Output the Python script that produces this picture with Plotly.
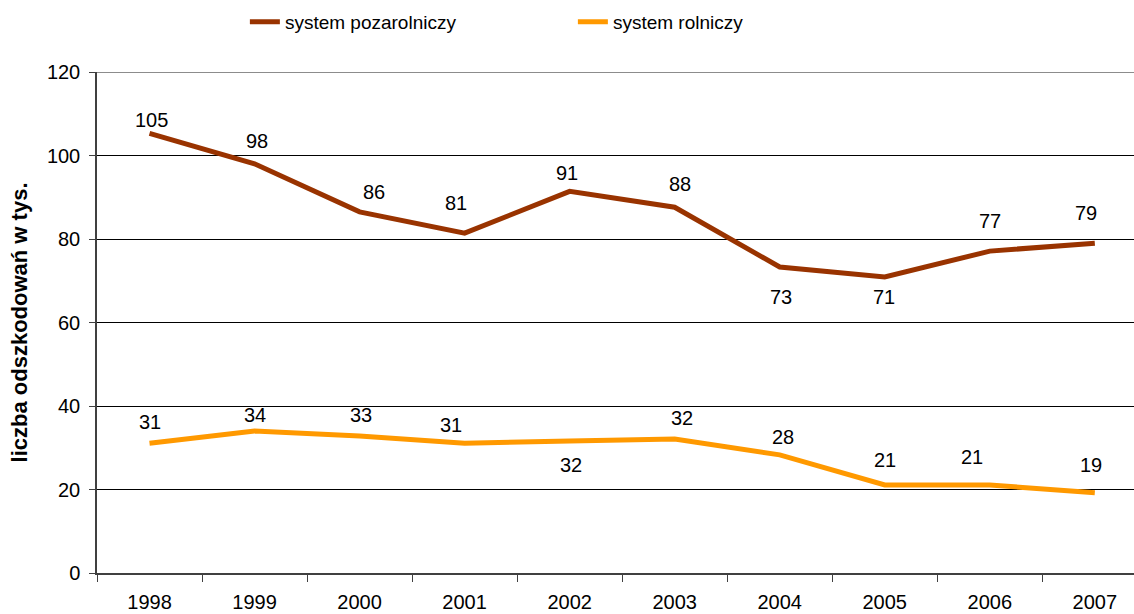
import plotly.graph_objects as go

years = ["1998", "1999", "2000", "2001", "2002", "2003", "2004", "2005", "2006", "2007"]
pozarolniczy = [105.3, 98.0, 86.5, 81.4, 91.4, 87.6, 73.3, 70.9, 77.1, 79.0]
rolniczy = [31.1, 34.0, 32.8, 31.1, 31.6, 32.1, 28.3, 21.1, 21.1, 19.2]

y_ticks = [0, 20, 40, 60, 80, 100, 120]

# label offsets in px (dx, dy; dy positive = downwards) relative to each point
poz_offsets = [(2, -13), (2, -23), (14, -20), (-9, -30), (-3, -18), (5, -23),
               (1, 30), (-1, 20), (0, -30), (-9, -30)]
rol_offsets = [(0, -21), (0, -16), (1, -21), (-14, -18), (1, 24), (7, -21),
               (3, -18), (0, -25), (-18, -28), (-4, -28)]

BROWN = "#993300"
ORANGE = "#FF9900"
FONT = "Liberation Sans, Arial, sans-serif"

fig = go.Figure()
fig.add_trace(go.Scatter(x=years, y=pozarolniczy, mode="lines", name="system pozarolniczy",
                         line=dict(color=BROWN, width=5)))
fig.add_trace(go.Scatter(x=years, y=rolniczy, mode="lines", name="system rolniczy",
                         line=dict(color=ORANGE, width=5)))

annotations = []
for series, offsets in ((pozarolniczy, poz_offsets), (rolniczy, rol_offsets)):
    for i, (v, (dx, dy)) in enumerate(zip(series, offsets)):
        annotations.append(dict(x=i, y=v, xref="x", yref="y", text=f"{v:.0f}",
                                showarrow=False, xshift=dx, yshift=-dy,
                                font=dict(family=FONT, size=20, color="black")))

annotations.append(dict(xref="paper", yref="paper", x=-0.0743, y=0.5,
                        text="<b>liczba odszkodowań w tys.</b>", textangle=-90,
                        showarrow=False, xanchor="center", yanchor="middle",
                        font=dict(family=FONT, size=22, color="black")))

fig.update_layout(
    width=1134, height=614,
    margin=dict(l=97, r=0, t=72, b=41, autoexpand=False),
    paper_bgcolor="white", plot_bgcolor="white",
    font=dict(family=FONT, size=20, color="black"),
    showlegend=True,
    legend=dict(orientation="h", x=0.1426, y=1.1, xanchor="left", yanchor="middle",
                font=dict(family=FONT, size=19), entrywidth=283,
                bgcolor="rgba(0,0,0,0)"),
    annotations=annotations,
    shapes=[dict(type="line", xref="paper", yref="y", x0=0, x1=1, y0=120, y1=120,
                 line=dict(color="#8c8c8c", width=2), layer="above")],
)
fig.update_xaxes(type="category", range=[-0.5, 9.373], tickson="boundaries",
                 ticks="outside", ticklen=7, tickcolor="#404040",
                 showline=True, linecolor="#404040", linewidth=1.5,
                 showgrid=False, zeroline=False,
                 tickfont=dict(family=FONT, size=20), ticklabelstandoff=10)
fig.update_yaxes(range=[0, 120], tickvals=y_ticks, ticks="outside", ticklen=6,
                 tickcolor="#404040", showline=True, linecolor="#404040", linewidth=1.5,
                 showgrid=True, gridcolor="black", gridwidth=1, zeroline=False,
                 tickfont=dict(family=FONT, size=20), ticklabelstandoff=5)

fig.write_html("out.html")
